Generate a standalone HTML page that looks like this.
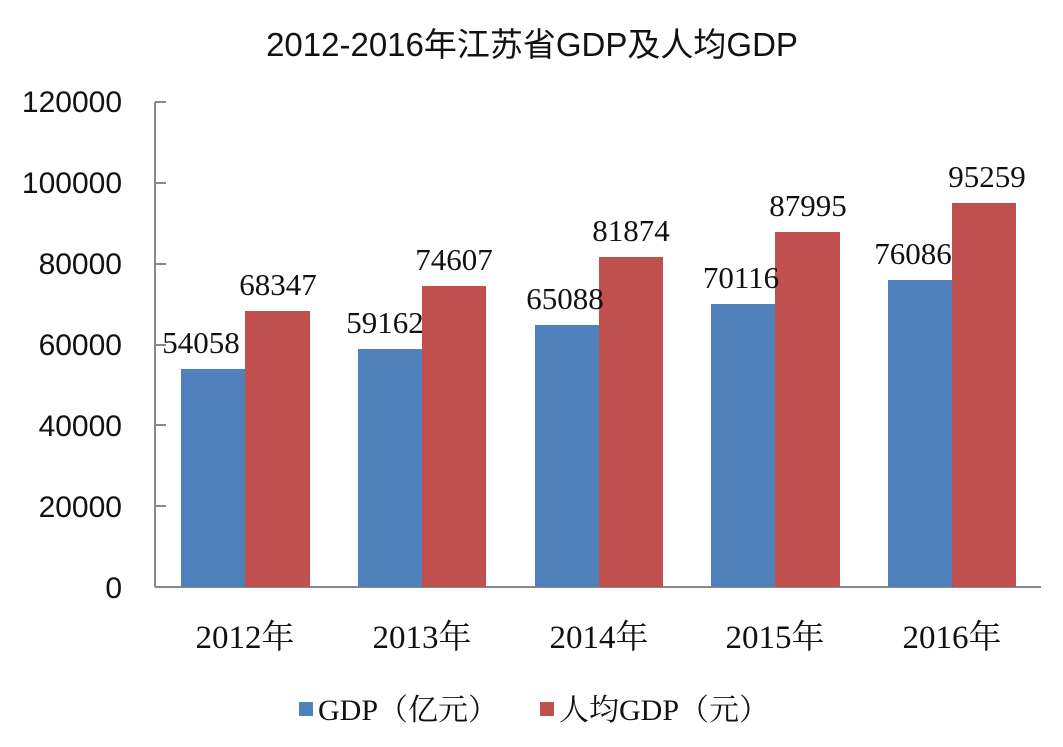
<!DOCTYPE html>
<html><head><meta charset="utf-8"><style>
body{margin:0;background:#fff;}
svg text{fill:#111;}
.s{font-family:"Liberation Sans","Noto Sans CJK SC",sans-serif;}
.r{font-family:"Liberation Serif","Noto Serif CJK SC",serif;}
</style></head><body>
<svg width="1063" height="742" xmlns="http://www.w3.org/2000/svg">
<text class="s" x="532" y="56" font-size="33" text-anchor="middle">2012-2016年江苏省GDP及人均GDP</text>
<g class="s" font-size="30" text-anchor="end">
<text x="122" y="598">0</text>
<text x="122" y="517">20000</text>
<text x="122" y="436">40000</text>
<text x="122" y="355">60000</text>
<text x="122" y="274">80000</text>
<text x="122" y="193">100000</text>
<text x="122" y="112">120000</text>
</g>
<g stroke="#888" stroke-width="2">
<line x1="155" y1="102" x2="155" y2="587"/>
<line x1="155" y1="587" x2="1041" y2="587"/>
<line x1="155" y1="102" x2="166" y2="102"/>
<line x1="155" y1="183" x2="166" y2="183"/>
<line x1="155" y1="264" x2="166" y2="264"/>
<line x1="155" y1="345" x2="166" y2="345"/>
<line x1="155" y1="425" x2="166" y2="425"/>
<line x1="155" y1="506" x2="166" y2="506"/>
</g>
<g fill="#4f81bd">
<rect x="181" y="369" width="64" height="218"/>
<rect x="358" y="349" width="64" height="238"/>
<rect x="535" y="325" width="64" height="262"/>
<rect x="711" y="304" width="64" height="283"/>
<rect x="888" y="280" width="64" height="307"/>
</g>
<g fill="#c0504d">
<rect x="245" y="311" width="65" height="276"/>
<rect x="422" y="286" width="64" height="301"/>
<rect x="599" y="257" width="64" height="330"/>
<rect x="775" y="232" width="65" height="355"/>
<rect x="952" y="203" width="64" height="384"/>
</g>
<g class="r" font-size="31" text-anchor="middle">
<text x="201" y="353">54058</text><text x="278" y="295">68347</text>
<text x="385" y="333">59162</text><text x="454" y="270">74607</text>
<text x="565" y="309">65088</text><text x="631" y="241">81874</text>
<text x="741" y="288">70116</text><text x="808" y="216">87995</text>
<text x="913" y="264">76086</text><text x="987" y="187">95259</text>
</g>
<g class="r" font-size="33" text-anchor="middle">
<text x="245" y="648">2012年</text>
<text x="422" y="648">2013年</text>
<text x="599" y="648">2014年</text>
<text x="775" y="648">2015年</text>
<text x="952" y="648">2016年</text>
</g>
<rect x="299" y="702" width="14" height="14" fill="#4f81bd"/>
<text class="r" x="318" y="720" font-size="30">GDP（亿元）</text>
<rect x="540" y="702" width="14" height="14" fill="#c0504d"/>
<text class="r" x="559" y="720" font-size="30">人均GDP（元）</text>
</svg>
</body></html>
